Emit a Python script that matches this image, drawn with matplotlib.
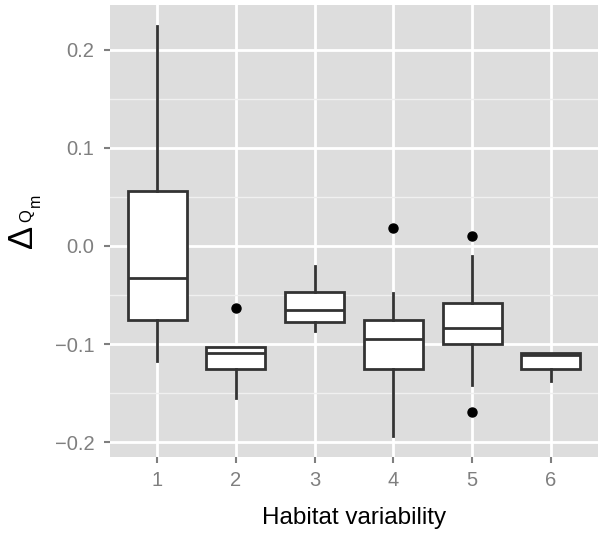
import numpy as np
import matplotlib
matplotlib.use('Agg')
from matplotlib import pyplot as plt

# Box statistics
groups = ['1', '2', '3', '4', '5', '6']
whisker_low = [-0.117, -0.155, -0.087, -0.194, -0.1415, -0.138]
q1 = [-0.0755, -0.125, -0.0777, -0.1256, -0.0995, -0.125]
medians = [-0.033, -0.1086, -0.065, -0.095, -0.0838, -0.111]
q3 = [0.056, -0.1025, -0.0465, -0.0754, -0.058, -0.109]
whisker_high = [0.224, -0.1025, -0.020, -0.048, -0.0102, -0.109]
outliers = [[], [-0.063], [], [0.018], [0.010, -0.169], []]

plt.rcParams['font.family'] = ['Liberation Sans', 'DejaVu Sans']

W, H = 603, 538
fig = plt.figure(figsize=(W / 100, H / 100), dpi=100)
ax = fig.add_axes([0.1824, 0.1506, 0.8093, 0.8401])
ax.set_facecolor('#dddddd')
for s in ax.spines.values():
    s.set_visible(False)

stats = []
for i in range(len(groups)):
    stats.append({'med': medians[i], 'q1': q1[i], 'q3': q3[i],
                  'whislo': whisker_low[i], 'whishi': whisker_high[i],
                  'fliers': outliers[i], 'label': groups[i]})

line = dict(color='#333333', linewidth=2.0)
ax.bxp(stats, positions=np.arange(1, 7), widths=0.75, patch_artist=True,
       showcaps=False,
       boxprops=dict(facecolor='white', edgecolor='#333333', linewidth=2.0),
       medianprops=line, whiskerprops=line,
       flierprops=dict(marker='o', markerfacecolor='black', markeredgecolor='black',
                       markersize=6.5),
       zorder=3)

ax.set_xlim(0.4, 6.6)
ax.set_ylim(-0.2149, 0.2454)
ax.set_xticks(np.arange(1, 7))
ax.set_xticklabels(groups)
ax.set_yticks([-0.2, -0.1, 0.0, 0.1, 0.2])
ax.set_yticklabels(['\u22120.2', '\u22120.1', '0.0', '0.1', '0.2'])
ax.set_yticks([-0.15, -0.05, 0.05, 0.15], minor=True)

ax.grid(which='major', color='white', linewidth=2.0, zorder=0)
ax.grid(which='minor', axis='y', color='#f0f0f0', linewidth=1.0, zorder=0)
ax.set_axisbelow(True)

ax.tick_params(axis='both', which='major', colors='#7f7f7f', labelcolor='#7f7f7f',
               labelsize=14.5, length=4.3, width=1.5)
ax.tick_params(axis='y', which='major', pad=7)
ax.tick_params(axis='x', which='major', pad=6)
ax.tick_params(axis='y', which='minor', length=0)

ax.set_xlabel('Habitat variability', fontsize=17.5, labelpad=12)

# y label: big delta, Q as its subscript, m as subscript of Q
fig.text(32 / W, 1 - 248.5 / H, '\u0394', fontsize=25, rotation=90,
         rotation_mode='anchor', ha='left', va='baseline')
fig.text(31.5 / W, 1 - 222 / H, 'Q', fontsize=12, rotation=90,
         rotation_mode='anchor', ha='left', va='baseline')
fig.text(40 / W, 1 - 207 / H, 'm', fontsize=11.5, rotation=90,
         rotation_mode='anchor', ha='left', va='baseline')

fig.savefig('out.png', dpi=100)
